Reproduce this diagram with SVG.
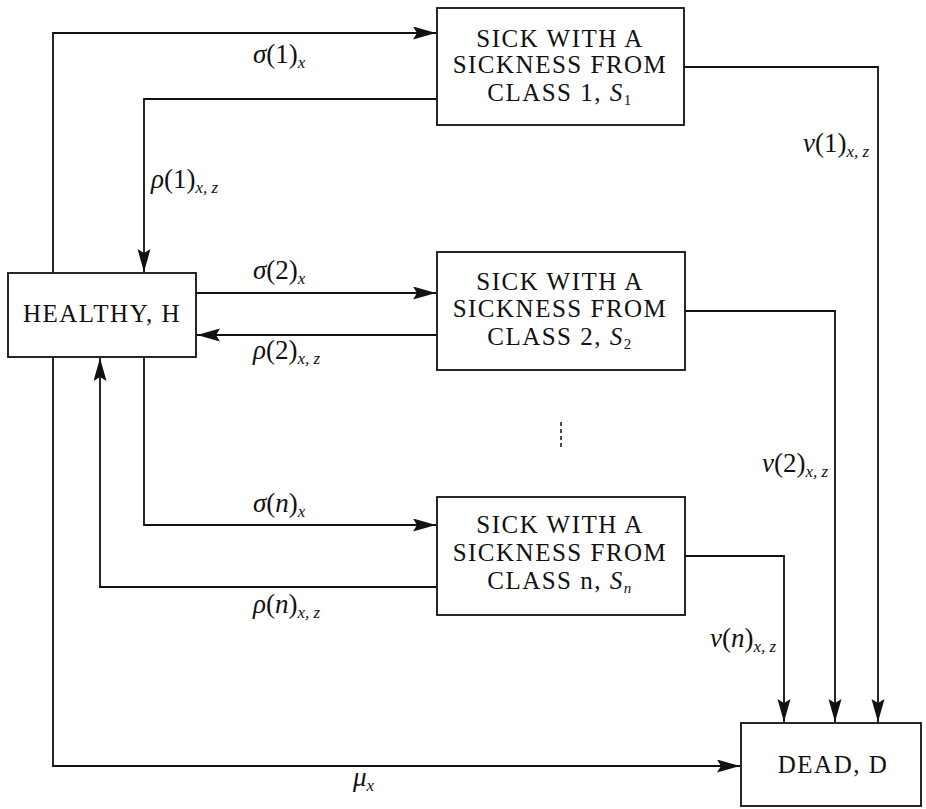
<svg xmlns="http://www.w3.org/2000/svg" width="926" height="809" viewBox="0 0 926 809">
<style>
.box{fill:#fff;stroke:#111;stroke-width:1.8}
.nt{font-family:'Liberation Serif','DejaVu Serif','Times New Roman',serif;font-size:25px;letter-spacing:1.5px;fill:#111;text-anchor:middle}
.lb{font-family:'Liberation Serif','DejaVu Serif','Times New Roman',serif;font-size:27px;fill:#111}
.it{font-style:italic}
.sub{font-style:italic;font-size:17px}
.con{fill:none;stroke:#111;stroke-width:1.8}
</style>
<defs>
<marker id="ah" markerUnits="userSpaceOnUse" markerWidth="26" markerHeight="14" refX="23" refY="6.5" orient="auto">
<path d="M0,0 L23,6.5 L0,13 L4,6.5 z" fill="#111"/>
</marker>
</defs>
<g id="connectors">
<path class="con" d="M53,273 V33 H436" marker-end="url(#ah)"/>
<path class="con" d="M437,99 H144 V272" marker-end="url(#ah)"/>
<path class="con" d="M196,293 H436" marker-end="url(#ah)"/>
<path class="con" d="M437,335 H197" marker-end="url(#ah)"/>
<path class="con" d="M144,357 V525 H436" marker-end="url(#ah)"/>
<path class="con" d="M437,587 H100 V358" marker-end="url(#ah)"/>
<path class="con" d="M53,357 V766 H740" marker-end="url(#ah)"/>
<path class="con" d="M684,67 H878 V722" marker-end="url(#ah)"/>
<path class="con" d="M685,311 H835 V722" marker-end="url(#ah)"/>
<path class="con" d="M685,556 H784 V722" marker-end="url(#ah)"/>
<line x1="561" y1="422" x2="561" y2="447" stroke="#111" stroke-width="1.5" stroke-dasharray="4,3"/>
</g>
<g id="labels">
<text class="lb" x="253" y="63"><tspan class="it">σ</tspan>(1)<tspan class="sub" dy="5">x</tspan></text>
<text class="lb" x="151" y="188"><tspan class="it">ρ</tspan>(1)<tspan class="sub" dy="5">x, z</tspan></text>
<text class="lb" x="253" y="279"><tspan class="it">σ</tspan>(2)<tspan class="sub" dy="5">x</tspan></text>
<text class="lb" x="253" y="359"><tspan class="it">ρ</tspan>(2)<tspan class="sub" dy="5">x, z</tspan></text>
<text class="lb" x="253" y="512"><tspan class="it">σ</tspan>(<tspan class="it">n</tspan>)<tspan class="sub" dy="5">x</tspan></text>
<text class="lb" x="253" y="613"><tspan class="it">ρ</tspan>(<tspan class="it">n</tspan>)<tspan class="sub" dy="5">x, z</tspan></text>
<text class="lb" x="353" y="786"><tspan class="it">μ</tspan><tspan class="sub" dy="5">x</tspan></text>
<text class="lb" x="803" y="152"><tspan class="it">ν</tspan>(1)<tspan class="sub" dy="5">x, z</tspan></text>
<text class="lb" x="762" y="472"><tspan class="it">ν</tspan>(2)<tspan class="sub" dy="5">x, z</tspan></text>
<text class="lb" x="710" y="647"><tspan class="it">ν</tspan>(<tspan class="it">n</tspan>)<tspan class="sub" dy="5">x, z</tspan></text>
</g>
<g id="healthy">
<rect class="box" x="8" y="273" width="188" height="84"/>
<text class="nt" x="102" y="322">HEALTHY, H</text>
</g>
<g id="s1">
<rect class="box" x="437" y="8" width="247" height="117"/>
<text class="nt" x="560" y="47">SICK WITH A</text>
<text class="nt" x="560" y="73">SICKNESS FROM</text>
<text class="nt" x="560" y="101">CLASS 1, <tspan class="it">S</tspan><tspan font-size="15" dy="4">1</tspan></text>
</g>
<g id="s2">
<rect class="box" x="437" y="252" width="248" height="118"/>
<text class="nt" x="560" y="290">SICK WITH A</text>
<text class="nt" x="560" y="317">SICKNESS FROM</text>
<text class="nt" x="560" y="345">CLASS 2, <tspan class="it">S</tspan><tspan font-size="15" dy="4">2</tspan></text>
</g>
<g id="sn">
<rect class="box" x="437" y="497" width="248" height="118"/>
<text class="nt" x="560" y="533">SICK WITH A</text>
<text class="nt" x="560" y="561">SICKNESS FROM</text>
<text class="nt" x="560" y="589">CLASS n, <tspan class="it">S</tspan><tspan class="it" font-size="15" dy="4">n</tspan></text>
</g>
<g id="dead">
<rect class="box" x="741" y="723" width="180" height="83"/>
<text class="nt" x="833" y="773">DEAD, D</text>
</g>
</svg>
